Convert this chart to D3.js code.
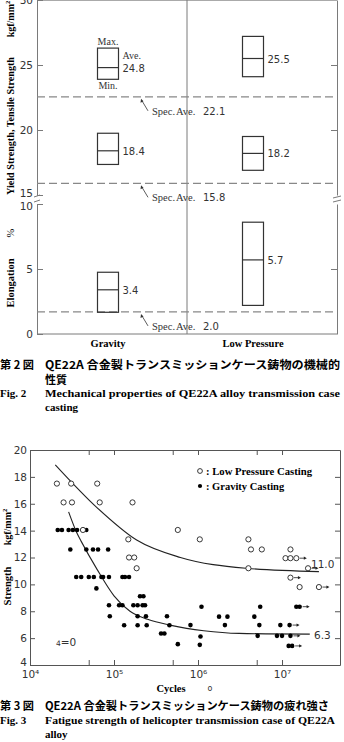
<!DOCTYPE html>
<html>
<head>
<meta charset="utf-8">
<title>QE22A</title>
<script src="https://cdn.jsdelivr.net/npm/d3@7"></script>
<style>
body, html {
  margin: 0;
  background: #fff;
}
svg { display: block; }
.serif { font-family: "Liberation Serif", "DejaVu Serif", serif; }
.sans { font-family: "DejaVu Sans", sans-serif; }
.cjk { font-family: "Noto Sans CJK JP", sans-serif; }
</style>
</head>
<body>
<script>
// ---- fig 2 : mechanical properties ----
var groups = ["Gravity", "Low Pressure"];
var tensileMax = [26.3, 27.2], tensileAve = [24.8, 25.5], tensileMin = [23.9, 24.1];
var yieldMax = [19.75, 19.5], yieldAve = [18.4, 18.2], yieldMin = [17.35, 16.9];
var elongMax = [4.75, 8.6], elongAve = [3.4, 5.7], elongMin = [1.67, 2.2];
var specPos = [22.55, 15.9, 1.7];
var specText = ["22.1", "15.8", "2.0"];
var upperTicks = [15, 20, 25, 30], lowerTicks = [0, 5, 10];

// ---- fig 3 : fatigue strength ----
var lpN = [2.09e4, 3.09e4, 6.31e4, 2.51e4, 3.16e4, 6.76e4, 1.66e5, 4.27e4, 1.48e5, 1.51e5, 1.74e5, 1.86e5,
  5.75e5, 1.05e6, 3.98e6, 4.27e6, 5.75e6, 1.26e7, 1.10e7, 1.26e7, 1.48e7, 3.98e6, 2.04e7, 1.26e7, 1.62e7, 2.75e7];
var lpS = [17.5, 17.5, 17.5, 16.1, 16.1, 16.1, 16.1, 14.05, 13.35, 12.0, 12.0, 11.2,
  14.05, 13.35, 13.35, 12.6, 12.6, 12.6, 11.95, 11.95, 11.95, 11.2, 11.2, 10.5, 9.8, 9.8];
var lpRunout = [20, 22, 23, 25];

var gravN = [2.14e4, 2.40e4, 2.88e4, 3.24e4, 3.63e4, 4.68e4,
  3.02e4, 4.68e4, 5.62e4, 6.46e4, 8.51e4,
  3.55e4, 4.07e4, 5.01e4, 5.75e4, 7.08e4, 7.41e4, 8.71e4, 1.26e5, 1.35e5, 1.51e5,
  6.17e4, 8.71e4, 8.91e4, 1.15e5, 1.26e5, 1.32e5, 1.70e5, 1.91e5, 2.19e5, 2.34e5,
  2.04e5, 2.24e5, 1.91e5, 2.40e5, 1.91e5, 2.45e5, 3.63e5, 3.98e5, 4.27e5, 4.57e5,
  5.75e5, 8.13e5, 1.10e6, 1.07e6, 1.05e6, 1.78e6, 2.24e6, 2.09e6,
  4.68e6, 5.50e6, 5.37e6, 5.13e6, 9.55e6, 8.71e6, 1.0e7,
  1.23e7, 1.26e7, 1.48e7, 1.62e7, 1.20e7, 1.32e7];
var gravS = [14.05, 14.05, 14.05, 14.05, 14.05, 14.05,
  12.6, 12.6, 12.6, 12.6, 12.6,
  10.55, 10.55, 10.55, 10.55, 10.55, 10.55, 10.55, 10.55, 10.55, 10.55,
  9.7, 8.45, 7.63, 8.45, 8.45, 6.96, 8.45, 8.45, 8.45, 8.45,
  9.12, 9.12, 7.63, 7.63, 6.96, 6.96, 6.34, 6.34, 7.63, 6.96,
  5.55, 6.97, 8.34, 6.12, 5.5, 7.6, 7.6, 6.97,
  7.6, 8.34, 6.97, 6.17, 6.97, 6.17, 6.17,
  6.97, 6.17, 8.34, 8.34, 5.42, 5.42];
var gravRunout = [56, 57, 59, 61];

var lpCurveN = [2.0e4, 6.31e4, 1.86e5, 6.17e5, 3.72e6, 2.75e7];
var lpCurveS = [18.9, 15.7, 13.3, 12.0, 11.2, 10.95];
var gravCurveN = [2.88e4, 3.63e4, 4.07e4, 6.31e4, 1.0e5, 1.55e5, 2.51e5, 4.79e5, 1.17e6, 3.09e6, 2.14e7];
var gravCurveS = [15.4, 13.8, 13.2, 11.1, 9.15, 8.0, 7.4, 6.95, 6.55, 6.35, 6.3];

var xTicks3 = [1e4, 5e4, 1e5, 5e5, 1e6, 5e6, 1e7];
var yTicks3 = [4, 6, 8, 10, 12, 14, 16, 18, 20];
var sup = {4: "\u2074", 5: "\u2075", 6: "\u2076", 7: "\u2077"};

var svg = d3.select("body").append("svg")
  .attr("width", 344)
  .attr("height", 742);

function styleAxis(sel, col) {
  sel.selectAll("path, line").attr("stroke", col);
  sel.attr("font-family", "DejaVu Sans, sans-serif").attr("font-size", 10.5);
  sel.selectAll("text").attr("fill", "#333");
}

// ================= fig 2 =================
var L2 = 37, R2 = 337, B2 = 334;
var x2 = d3.scalePoint().domain(groups).range([108, 253]);
var yUp = d3.scaleLinear().domain([15, 30]).range([195, 0]);
var yLo = d3.scaleLinear().domain([0, 10]).range([B2, 204]);
var ax2 = "#7a7a7a";
var g2 = svg.append("g");

g2.append("line").attr("x1", L2).attr("x2", R2).attr("y1", 0.5).attr("y2", 0.5).attr("stroke", "#aaa");
g2.append("line").attr("x1", L2).attr("x2", R2).attr("y1", B2).attr("y2", B2).attr("stroke", ax2);
g2.append("line").attr("x1", 187).attr("x2", 187).attr("y1", 0).attr("y2", B2).attr("stroke", ax2);

var axUp = g2.append("g").attr("transform", "translate(" + L2 + ",0)")
  .call(d3.axisLeft(yUp).tickValues(upperTicks).tickSize(-6).tickSizeOuter(0).tickPadding(4))
  .call(styleAxis, ax2);
var axLo = g2.append("g").attr("transform", "translate(" + L2 + ",0)")
  .call(d3.axisLeft(yLo).tickValues(lowerTicks).tickSize(-6).tickSizeOuter(0).tickPadding(4))
  .call(styleAxis, ax2);
// keep the two labels at the break apart
axUp.selectAll(".tick").filter(function(d) { return d === 15; }).select("text").attr("y", -2);
axLo.selectAll(".tick").filter(function(d) { return d === 10; }).select("text").attr("y", 2);

g2.append("g").attr("transform", "translate(" + R2 + ",0)")
  .call(d3.axisRight(yUp).tickValues([20, 25]).tickSize(-6).tickSizeOuter(0).tickFormat(""))
  .call(styleAxis, ax2);
g2.append("g").attr("transform", "translate(" + R2 + ",0)")
  .call(d3.axisRight(yLo).tickValues([5]).tickSize(-6).tickSizeOuter(0).tickFormat(""))
  .call(styleAxis, ax2);

// axis break marks
g2.append("path")
  .attr("d", "M34,197 L40,195 M34,202 L40,200 M" + (R2 - 4) + ",198 L" + (R2 + 4) + ",196 M" + (R2 - 4) + ",202 L" + (R2 + 4) + ",200")
  .attr("stroke", ax2).attr("fill", "none");

// spec lines
var specScale = [yUp, yUp, yLo];
specPos.forEach(function(v, i) {
  var yy = specScale[i](v);
  g2.append("line").attr("x1", L2).attr("x2", R2).attr("y1", yy).attr("y2", yy)
    .attr("stroke", "#888").attr("stroke-width", 1.3).attr("stroke-dasharray", "8,4");
  g2.append("line").attr("x1", 148).attr("y1", yy + 14).attr("x2", 142).attr("y2", yy + 4)
    .attr("stroke", "#333").attr("stroke-width", 0.8);
  g2.append("path").attr("d", "M141," + (yy + 2) + " l-0.5,4 l3,-1.5 z").attr("fill", "#333");
  var t = g2.append("text").attr("y", yy + 18).attr("font-size", 10.5).attr("fill", "#333");
  t.append("tspan").attr("x", 152).attr("class", "serif").text("Spec.");
  t.append("tspan").attr("x", 176).attr("class", "serif").text("Ave.");
  t.append("tspan").attr("x", 203).attr("class", "sans").attr("font-size", 10).text(specText[i]);
});

// boxes
var panels = [
  {y: yUp, max: tensileMax, ave: tensileAve, min: tensileMin},
  {y: yUp, max: yieldMax, ave: yieldAve, min: yieldMin},
  {y: yLo, max: elongMax, ave: elongAve, min: elongMin}
];
var bw = 21;
panels.forEach(function(p) {
  groups.forEach(function(gname, i) {
    var cx = x2(gname);
    g2.append("rect").attr("x", cx - bw / 2).attr("width", bw)
      .attr("y", p.y(p.max[i])).attr("height", p.y(p.min[i]) - p.y(p.max[i]))
      .attr("fill", "none").attr("stroke", "#333").attr("stroke-width", 1.2);
    g2.append("line").attr("x1", cx - bw / 2).attr("x2", cx + bw / 2)
      .attr("y1", p.y(p.ave[i])).attr("y2", p.y(p.ave[i]))
      .attr("stroke", "#333").attr("stroke-width", 1.2);
    g2.append("text").attr("class", "sans").attr("font-size", 10).attr("fill", "#333")
      .attr("x", cx + bw / 2 + 4).attr("y", p.y(p.ave[i]) + 4).text(p.ave[i].toFixed(1));
  });
});

// Max / Min / Ave annotation
var gx = x2(groups[0]);
g2.append("text").attr("class", "serif").attr("font-size", 10).attr("fill", "#333")
  .attr("text-anchor", "middle").attr("x", gx).attr("y", yUp(tensileMax[0]) - 3).text("Max.");
g2.append("text").attr("class", "serif").attr("font-size", 10).attr("fill", "#333")
  .attr("text-anchor", "middle").attr("x", gx).attr("y", yUp(tensileMin[0]) + 10).text("Min.");
g2.append("text").attr("class", "serif").attr("font-size", 10).attr("fill", "#333")
  .attr("x", gx + bw / 2 + 4).attr("y", yUp(tensileAve[0]) - 9).text("Ave.");

// category labels
groups.forEach(function(gname) {
  g2.append("text").attr("class", "serif").attr("font-weight", "bold").attr("font-size", 10.5)
    .attr("text-anchor", "middle").attr("x", x2(gname)).attr("y", 347).text(gname);
});

// y titles
function vtext(x, y, s, size) {
  return g2.append("text").attr("class", "serif").attr("font-weight", "bold").attr("font-size", size)
    .attr("text-anchor", "middle").attr("transform", "translate(" + x + "," + y + ") rotate(-90)").text(s);
}
vtext(14, 126, "Yield Strength, Tensile Strength", 10).attr("textLength", 138).attr("lengthAdjust", "spacingAndGlyphs");
var k2 = vtext(14, 19, "kgf/mm", 10);
k2.append("tspan").attr("font-size", 6.5).attr("dy", -4).text("2");
vtext(14, 283, "Elongation", 10.5);
vtext(14, 233, "%", 10.5).attr("font-weight", "normal");

// caption 2
var c2 = svg.append("g").attr("font-weight", "bold");
c2.append("text").attr("class", "cjk").attr("font-size", 11).attr("x", 0).attr("y", 369)
  .attr("textLength", 34).attr("lengthAdjust", "spacingAndGlyphs").text("第 2 図");
c2.append("text").attr("class", "cjk").attr("font-size", 11).attr("x", 45).attr("y", 369)
  .attr("textLength", 295).attr("lengthAdjust", "spacingAndGlyphs").text("QE22A 合金製トランスミッションケース鋳物の機械的");
c2.append("text").attr("class", "cjk").attr("font-size", 11).attr("x", 45).attr("y", 384).text("性質");
c2.append("text").attr("class", "serif").attr("font-size", 11).attr("x", 0).attr("y", 397).text("Fig. 2");
c2.append("text").attr("class", "serif").attr("font-size", 11).attr("x", 45).attr("y", 397)
  .attr("textLength", 295).attr("lengthAdjust", "spacingAndGlyphs").text("Mechanical properties of QE22A alloy transmission case");
c2.append("text").attr("class", "serif").attr("font-size", 11).attr("x", 45).attr("y", 411).text("casting");

// ================= fig 3 =================
var x3 = d3.scaleLog().domain([1e4, 4.9e7]).range([30, 340]);
var y3 = d3.scaleLinear().domain([4, 20]).range([665, 450]);
var ax3 = "#555";
var g3 = svg.append("g");

g3.append("g").attr("transform", "translate(0,665)")
  .call(d3.axisBottom(x3).tickValues(xTicks3).tickSize(-5).tickSizeOuter(0).tickPadding(6)
    .tickFormat(function(d) {
      var e = Math.round(Math.log10(d));
      return Math.abs(Math.log10(d) - e) < 1e-9 ? "10" + sup[e] : "";
    }))
  .call(styleAxis, ax3);
g3.append("g").attr("transform", "translate(0,450)")
  .call(d3.axisTop(x3).tickValues(xTicks3).tickSize(-5).tickSizeOuter(0).tickFormat(""))
  .call(styleAxis, ax3);
var axY3 = g3.append("g").attr("transform", "translate(30,0)")
  .call(d3.axisLeft(y3).tickValues(yTicks3).tickSize(-5).tickSizeOuter(0).tickPadding(3))
  .call(styleAxis, ax3);
axY3.selectAll(".tick").filter(function(d) { return d === 4; }).select("text").attr("y", -3);
g3.append("g").attr("transform", "translate(340,0)")
  .call(d3.axisRight(y3).tickValues(yTicks3).tickSize(-5).tickSizeOuter(0).tickFormat(""))
  .call(styleAxis, ax3);

// fitted curves
var line3 = d3.line().x(function(d) { return x3(d[0]); }).y(function(d) { return y3(d[1]); })
  .curve(d3.curveMonotoneX);
g3.append("path").attr("d", line3(d3.zip(lpCurveN, lpCurveS)))
  .attr("fill", "none").attr("stroke", "#222").attr("stroke-width", 1.1);
g3.append("path").attr("d", line3(d3.zip(gravCurveN, gravCurveS)))
  .attr("fill", "none").attr("stroke", "#222").attr("stroke-width", 1.1);

// points
g3.append("g").selectAll("circle").data(d3.zip(gravN, gravS)).enter().append("circle")
  .attr("cx", function(d) { return x3(d[0]); }).attr("cy", function(d) { return y3(d[1]); })
  .attr("r", 2.3).attr("fill", "#000");
g3.append("g").selectAll("circle").data(d3.zip(lpN, lpS)).enter().append("circle")
  .attr("cx", function(d) { return x3(d[0]); }).attr("cy", function(d) { return y3(d[1]); })
  .attr("r", 2.6).attr("fill", "#fff").attr("stroke", "#222").attr("stroke-width", 0.9);

// run-out arrows
function arrows(N, S, idx, off) {
  idx.forEach(function(i) {
    var px = x3(N[i]) + off, py = y3(S[i]);
    g3.append("line").attr("x1", px).attr("x2", px + 5).attr("y1", py).attr("y2", py)
      .attr("stroke", "#222").attr("stroke-width", 0.8);
    g3.append("path").attr("d", "M" + (px + 7) + "," + py + " l-3,-1.6 l0,3.2 z").attr("fill", "#222");
  });
}
arrows(gravN, gravS, gravRunout, 3);
arrows(lpN, lpS, lpRunout, 3.5);

// end labels
g3.append("text").attr("class", "sans").attr("font-size", 10.5).attr("fill", "#333")
  .attr("x", 311).attr("y", y3(lpCurveS[lpCurveS.length - 1]) - 4).text("11.0");
g3.append("text").attr("class", "sans").attr("font-size", 10.5).attr("fill", "#333")
  .attr("x", 314).attr("y", y3(gravCurveS[gravCurveS.length - 1]) + 5).text("6.3");

// legend
g3.append("circle").attr("cx", 200).attr("cy", 471).attr("r", 2.4)
  .attr("fill", "#fff").attr("stroke", "#222").attr("stroke-width", 0.9);
g3.append("circle").attr("cx", 200).attr("cy", 486).attr("r", 2.1).attr("fill", "#000");
g3.append("text").attr("class", "serif").attr("font-weight", "bold").attr("font-size", 10.5)
  .attr("x", 206).attr("y", 474.5).attr("textLength", 106).attr("lengthAdjust", "spacingAndGlyphs")
  .text(": Low Pressure Casting");
g3.append("text").attr("class", "serif").attr("font-weight", "bold").attr("font-size", 10.5)
  .attr("x", 206).attr("y", 489.5).text(": Gravity Casting");

// stress ratio note
var note = g3.append("text").attr("class", "sans").attr("fill", "#333").attr("x", 56).attr("y", 646);
note.append("tspan").attr("font-size", 7.5).text("4");
note.append("tspan").attr("font-size", 10.5).text("=0");

// axis titles
g3.append("text").attr("class", "serif").attr("font-weight", "bold").attr("font-size", 10.5)
  .attr("text-anchor", "middle").attr("x", 171).attr("y", 692).text("Cycles");
g3.append("text").attr("class", "sans").attr("font-size", 8).attr("fill", "#333")
  .attr("text-anchor", "middle").attr("x", 210).attr("y", 691).text("o");
g3.append("text").attr("class", "serif").attr("font-weight", "bold").attr("font-size", 10.5)
  .attr("text-anchor", "middle").attr("transform", "translate(11,586) rotate(-90)").text("Strength");
var k3 = g3.append("text").attr("class", "serif").attr("font-weight", "bold").attr("font-size", 10)
  .attr("text-anchor", "middle").attr("transform", "translate(11,527) rotate(-90)").text("kgf/mm");
k3.append("tspan").attr("font-size", 6.5).attr("dy", -4).text("2");

// caption 3
var c3 = svg.append("g").attr("font-weight", "bold");
c3.append("text").attr("class", "cjk").attr("font-size", 11).attr("x", 0).attr("y", 710)
  .attr("textLength", 34).attr("lengthAdjust", "spacingAndGlyphs").text("第 3 図");
c3.append("text").attr("class", "cjk").attr("font-size", 11).attr("x", 45).attr("y", 710)
  .attr("textLength", 284).attr("lengthAdjust", "spacingAndGlyphs").text("QE22A 合金製トランスミッションケース鋳物の疲れ強さ");
c3.append("text").attr("class", "serif").attr("font-size", 11).attr("x", 0).attr("y", 724).text("Fig. 3");
c3.append("text").attr("class", "serif").attr("font-size", 11).attr("x", 45).attr("y", 724)
  .attr("textLength", 290).attr("lengthAdjust", "spacingAndGlyphs").text("Fatigue strength of helicopter transmission case of QE22A");
c3.append("text").attr("class", "serif").attr("font-size", 11).attr("x", 45).attr("y", 738).text("alloy");
</script>
</body>
</html>
